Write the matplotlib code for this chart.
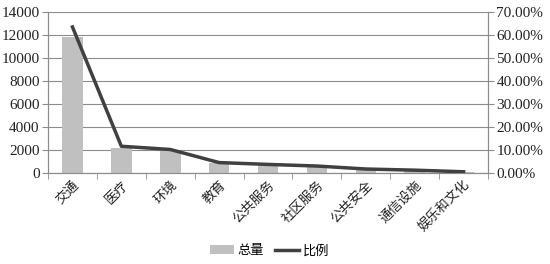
import matplotlib.pyplot as plt
import numpy as np
from matplotlib.ticker import FuncFormatter, FixedLocator

# data
categories = ['交通', '医疗', '环境', '教育', '公共服务', '社区服务', '公共安全', '通信设施', '娱乐和文化']
totals = [11850, 2200, 1880, 850, 700, 560, 320, 220, 100]
ratios = [63.5, 11.6, 10.2, 4.5, 3.7, 3.0, 1.7, 1.2, 0.5]

serif = ['Liberation Serif', 'DejaVu Serif']
cjk = ['Noto Sans CJK SC', 'DejaVu Sans']

fig = plt.figure(figsize=(5.5, 2.64), dpi=100)
ax = fig.add_axes([0.0873, 0.345, 0.8, 0.6095])
ax2 = ax.twinx()

x = np.arange(len(categories))
ax.bar(x, totals, width=0.42, color='#c0c0c0', zorder=2, label='总量')
ax2.plot(x, ratios, color='#404040', linewidth=2.5, zorder=3, label='比例')

ax.set_xlim(-0.5, len(categories) - 0.5)
ax.set_ylim(0, 14000)
ax.set_yticks(range(0, 14001, 2000))
ax2.set_ylim(0, 70)
ax2.set_yticks(range(0, 71, 10))
ax2.yaxis.set_major_formatter(FuncFormatter(lambda v, p: f'{v:.2f}%'))

ax.grid(axis='y', color='#8c8c8c', linewidth=0.8, zorder=0)
ax.set_axisbelow(True)

# category labels at centres, tick marks at boundaries
ax.set_xticks(x)
ax.set_xticklabels(categories, rotation=45, ha='right', rotation_mode='anchor',
                   family=cjk, fontsize=9.5, color='#222222')
ax.tick_params(axis='x', which='major', length=0, pad=4)
ax.xaxis.set_minor_locator(FixedLocator(np.arange(-0.5, len(categories), 1.0)))
ax.tick_params(axis='x', which='minor', length=4, color='#8c8c8c', direction='out')

for a in (ax, ax2):
    for s in a.spines.values():
        s.set_color('#8c8c8c')
    a.spines['top'].set_visible(False)
ax.tick_params(axis='y', length=4, color='#8c8c8c', pad=2)
ax2.tick_params(axis='y', length=4, color='#8c8c8c', pad=2)
for lab in ax.get_yticklabels() + ax2.get_yticklabels():
    lab.set_family(serif)
    lab.set_fontsize(11)
    lab.set_color('#222222')

h1, l1 = ax.get_legend_handles_labels()
h2, l2 = ax2.get_legend_handles_labels()
fig.legend(h1 + h2, l1 + l2, loc='center', bbox_to_anchor=(0.49, 0.05), ncol=2,
           frameon=False, prop={'family': cjk, 'size': 9.5}, handlelength=1.8,
           handletextpad=0.3, columnspacing=0.8)

fig.savefig('out.png', dpi=100)
